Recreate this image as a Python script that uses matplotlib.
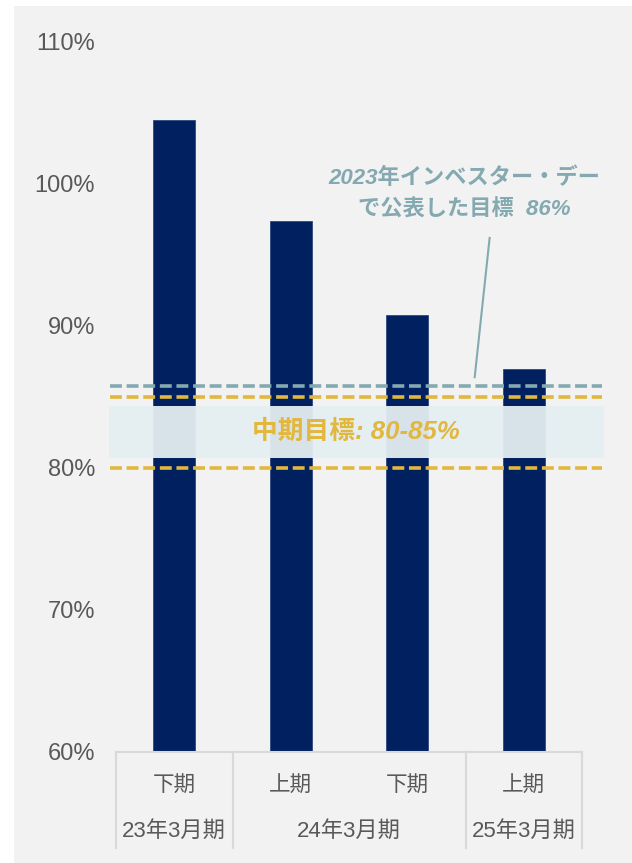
import matplotlib.pyplot as plt
import matplotlib.transforms as mtransforms
from matplotlib.patches import Rectangle

plt.rcParams['font.family'] = ['Liberation Sans', 'Noto Sans CJK JP', 'DejaVu Sans']

# data
periods = ['下期', '上期', '下期', '上期']
years = ['23年3月期', '24年3月期', '25年3月期']
year_spans = [1, 2, 1]
ratios = [104.5, 97.4, 90.8, 87.0]
investor_target = 85.8
mid_low, mid_high = 80, 85
band_low, band_high = 80.7, 84.4
yticks = [60, 70, 80, 90, 100, 110]

navy = '#002060'
teal = '#84a9b0'
gold = '#e2b73e'
grey_txt = '#595959'

fig = plt.figure(figsize=(6.32, 8.63), dpi=100, facecolor='white')
# grey panel behind the chart
fig.add_artist(Rectangle((14 / 632, 0), 1, 1 - 6 / 863, transform=fig.transFigure,
                         facecolor='#f2f2f2', edgecolor='none', zorder=-10))

ax = fig.add_axes([116 / 632, 1 - 752 / 863, 466 / 632, 710 / 863])
ax.set_facecolor('none')

x = list(range(len(ratios)))
ax.bar(x, ratios, width=0.36, color=navy, edgecolor='#2c4a80', linewidth=0.6, zorder=2)

ax.set_xlim(-0.5, len(ratios) - 0.5)
ax.set_ylim(60, 110)
ax.set_yticks(yticks)
ax.set_yticklabels([f'{t}%' for t in yticks], fontsize=17, color=grey_txt)
ax.tick_params(axis='y', length=0, pad=15)
ax.set_xticks([])
for s in ['top', 'right', 'left']:
    ax.spines[s].set_visible(False)
ax.spines['bottom'].set_color('#d9d9d9')
ax.spines['bottom'].set_linewidth(1.5)

# target lines and band
x0, x1 = -0.55, 3.67
dash = (0, (3.3, 1.3))
ax.plot([x0, x1], [investor_target] * 2, ls=dash, color=teal, lw=2.6, zorder=3, clip_on=False)
ax.plot([x0, x1], [mid_high] * 2, ls=dash, color=gold, lw=2.6, zorder=3, clip_on=False)
ax.plot([x0, x1], [mid_low] * 2, ls=dash, color=gold, lw=2.6, zorder=3, clip_on=False)
ax.add_patch(Rectangle((-0.56, band_low), 4.25, band_high - band_low, facecolor='#e5eef1',
                       alpha=0.95, edgecolor='none', zorder=4, clip_on=False))
ax.text(1.56, (band_low + band_high) / 2, f'中期目標: {mid_low}-{mid_high}%', ha='center', va='center',
        fontsize=18.5, fontweight='bold', style='italic', color=gold, zorder=5)

# investor day callout
ax.text(2.49, 99.3, '2023年インベスター・デー\nで公表した目標  86%', ha='center', va='center',
        fontsize=16, fontweight='bold', style='italic', color=teal, linespacing=1.65)
ax.plot([2.707, 2.579], [96.2, 86.4], color=teal, lw=1.5)

# two-level category axis
trans = mtransforms.blended_transform_factory(ax.transData, ax.transAxes)
for i, p in enumerate(periods):
    ax.text(i, -0.049, p, transform=trans, ha='center', va='center', fontsize=15.5, color=grey_txt)
start = -0.5
bounds = [start]
for y, span in zip(years, year_spans):
    ax.text(start + span / 2, -0.112, y, transform=trans, ha='center', va='center',
            fontsize=16, color=grey_txt)
    start += span
    bounds.append(start)
for b in bounds:
    ax.plot([b, b], [0, -0.135], transform=trans, color='#d9d9d9', lw=1.5, clip_on=False)

fig.savefig('out.png', dpi=100, facecolor=fig.get_facecolor())
